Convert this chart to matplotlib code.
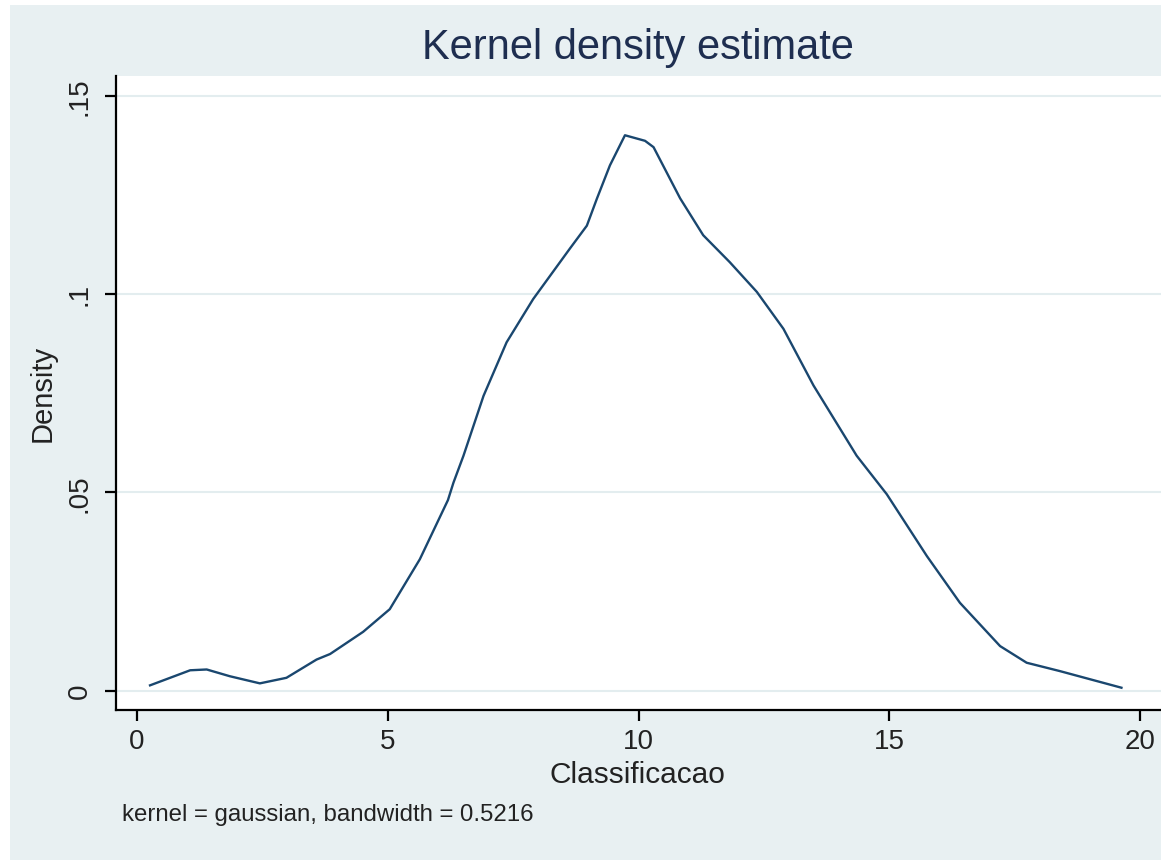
import matplotlib
matplotlib.use("Agg")
import matplotlib.pyplot as plt
from matplotlib.patches import Rectangle

# ---- data (kernel density curve) ----
classificacao = [0.26, 1.06, 1.39, 1.85, 2.45, 2.98, 3.58, 3.85, 4.51, 5.04, 5.64,
                 6.20, 6.31, 6.51, 6.91, 7.37, 7.90, 8.63, 8.97, 9.17, 9.43, 9.73,
                 10.13, 10.30, 10.83, 11.29, 11.82, 12.36, 12.89, 13.49, 14.35,
                 14.95, 15.75, 16.41, 17.21, 17.74, 18.40, 19.63]
density = [0.0013, 0.0051, 0.0053, 0.0036, 0.0018, 0.0032, 0.0078, 0.0092, 0.0148, 0.0205, 0.0331,
           0.0480, 0.0524, 0.0592, 0.0743, 0.0878, 0.0987, 0.1114, 0.1172, 0.1240, 0.1324, 0.1400,
           0.1386, 0.1370, 0.1241, 0.1148, 0.1080, 0.1005, 0.0912, 0.0769, 0.0592,
           0.0495, 0.0339, 0.0221, 0.0112, 0.0070, 0.0049, 0.0007]

x_ticks = [0, 5, 10, 15, 20]
x_tick_labels = ["0", "5", "10", "15", "20"]
y_ticks = [0, 0.05, 0.10, 0.15]
y_tick_labels = ["0", ".05", ".1", ".15"]

title = "Kernel density estimate"
x_label = "Classificacao"
y_label = "Density"
note = "kernel = gaussian, bandwidth = 0.5216"

# ---- styling ----
plt.rcParams["font.family"] = ["Liberation Sans", "DejaVu Sans"]
W, H = 1161, 862
BG = "#E8F0F2"
NAVY = "#1A476F"
TITLE_C = "#1E2E50"

fig = plt.figure(figsize=(W / 100, H / 100), dpi=100, facecolor="white")

# graph region (light blue-gray)
fig.patches.append(Rectangle((10 / W, 1 - 861 / H), (W - 10) / W, (861 - 6) / H,
                             transform=fig.transFigure, facecolor=BG,
                             edgecolor="none", zorder=-10))

# plot region in pixels
left_px, right_px, top_px, bottom_px = 116, 1163, 77, 711
ax = fig.add_axes([left_px / W, 1 - bottom_px / H,
                   (right_px - left_px) / W, (bottom_px - top_px) / H])
ax.set_zorder(5)
ax.set_facecolor("white")

# data -> pixel calibration for limits
x0_px, x_scale = 137.0, 50.15
y0_px, y_scale = 691.5, 3966.0
ax.set_xlim((left_px - x0_px) / x_scale, (right_px - x0_px) / x_scale)
ax.set_ylim((y0_px - bottom_px) / y_scale, (y0_px - top_px) / y_scale)

ax.plot(classificacao, density, color=NAVY, lw=1.7, zorder=3,
        solid_joinstyle="round")

for yt in y_ticks:
    ax.axhline(yt, color="#E3EDEF", lw=1.5, zorder=1)

ax.set_xticks(x_ticks)
ax.set_xticklabels(x_tick_labels)
ax.set_yticks(y_ticks)
ax.set_yticklabels(y_tick_labels)

for s in ["top", "right"]:
    ax.spines[s].set_visible(False)
for s in ["left", "bottom"]:
    ax.spines[s].set_color("black")
    ax.spines[s].set_linewidth(1.6)

ax.tick_params(axis="both", direction="out", length=8, width=1.6,
               color="black", labelsize=20, labelcolor="#222222")
ax.tick_params(axis="x", pad=5)
ax.tick_params(axis="y", pad=9)
for lab in ax.get_yticklabels():
    lab.set_rotation(90)
    lab.set_va("center")
    lab.set_ha("right")

fig.text(638 / W, 1 - 59 / H, title, ha="center", va="baseline",
         fontsize=30, color=TITLE_C)
fig.text(637.5 / W, 1 - 783 / H, x_label, ha="center", va="baseline",
         fontsize=21.5, color="#222222")
fig.text(57 / W, 1 - 393 / H, y_label, ha="right", va="center",
         rotation=90, fontsize=21, color="#222222")
fig.text(122 / W, 1 - 821 / H, note, ha="left", va="baseline",
         fontsize=17.3, color="#222222")

fig.savefig("out.png", dpi=100, facecolor="white")
